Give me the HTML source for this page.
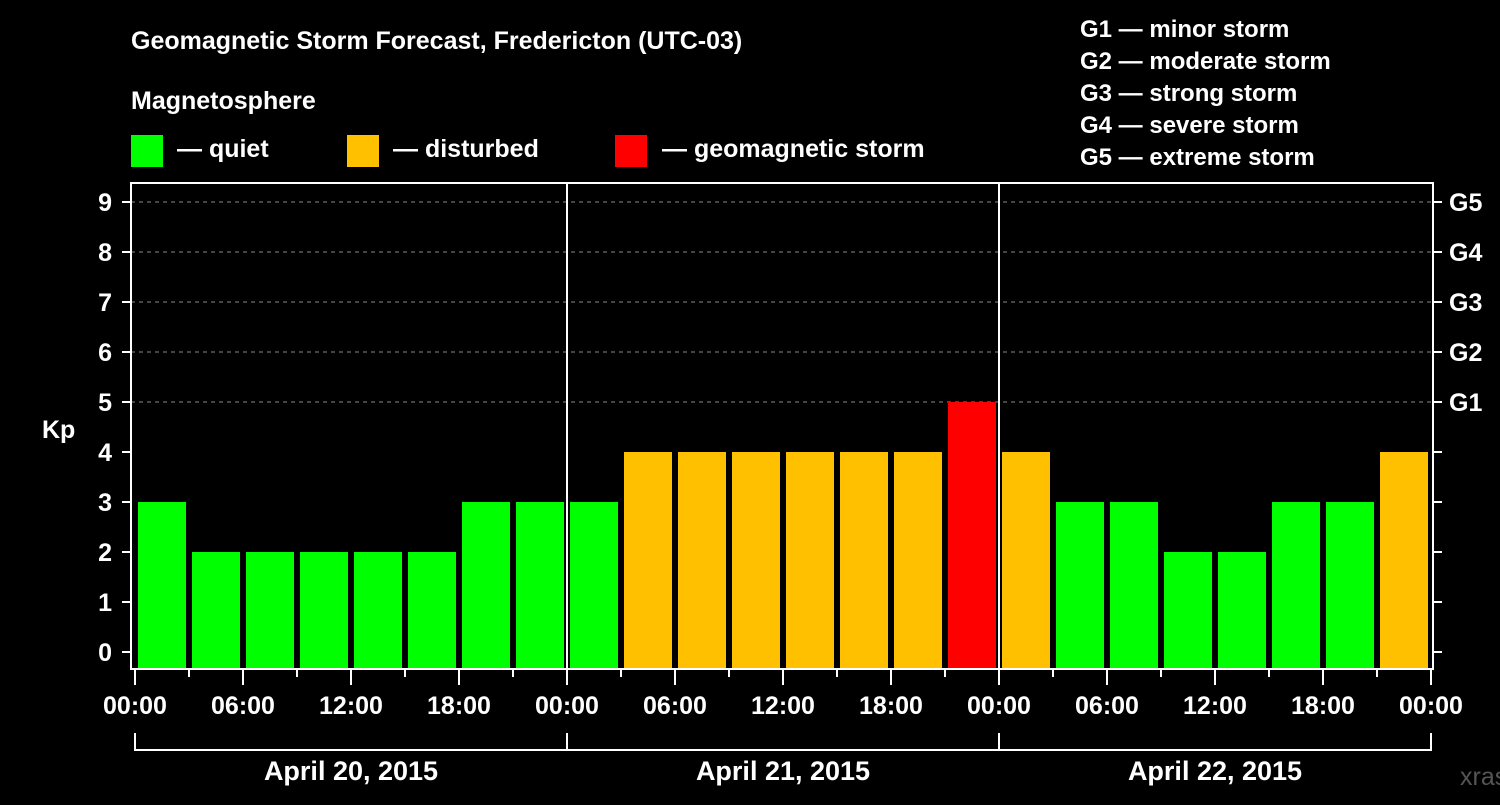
<!DOCTYPE html>
<html><head><meta charset="utf-8"><style>
body{margin:0;background:#000;width:1500px;height:800px;overflow:hidden}
svg text{font-family:"Liberation Sans",Arial,sans-serif;font-weight:bold;fill:#fff}
</style></head><body>
<svg width="1500" height="800">
<text x="131" y="49" font-size="25">Geomagnetic Storm Forecast, Fredericton (UTC-03)</text>
<text x="131" y="109" font-size="25">Magnetosphere</text>
<g><rect x="131" y="135" width="32" height="32" fill="#00ff00"/><text x="177" y="157" font-size="25">— quiet</text></g>
<g><rect x="347" y="135" width="32" height="32" fill="#ffc000"/><text x="393" y="157" font-size="25">— disturbed</text></g>
<g><rect x="615" y="135" width="32" height="32" fill="#ff0000"/><text x="662" y="157" font-size="25">— geomagnetic storm</text></g>
<g font-size="24">
<text x="1080" y="37">G1 — minor storm</text><text x="1080" y="69">G2 — moderate storm</text><text x="1080" y="101">G3 — strong storm</text><text x="1080" y="133">G4 — severe storm</text><text x="1080" y="165">G5 — extreme storm</text></g>
<g id="grid"></g><g id="bars"></g>
<rect x="131" y="183" width="1302" height="486" fill="none" stroke="#fff" stroke-width="2"/>
<g id="axes"></g>
<text x="42" y="438" font-size="25">Kp</text>
<text x="1460" y="785" font-size="25" fill="#555" style="fill:#555;font-weight:normal">xras.ru</text>
</svg>
<script>
const kp=[3,2,2,2,2,2,3,3,3,4,4,4,4,4,4,5,4,3,3,2,2,3,3,4];
const days=["April 20, 2015","April 21, 2015","April 22, 2015"];
const hourLabels=["00:00","06:00","12:00","18:00"];
const yTicks=[0,1,2,3,4,5,6,7,8,9];
const gLabels=["G1","G2","G3","G4","G5"];
const NS="http://www.w3.org/2000/svg";
const X0=135,PXH=18,Y0=652,PXK=50;
const xs=h=>X0+h*PXH, ys=k=>Y0-k*PXK;
function mk(t,a,p){const e=document.createElementNS(NS,t);for(const k in a)e.setAttribute(k,a[k]);p.appendChild(e);return e;}
const grid=document.getElementById('grid'),bars=document.getElementById('bars'),axes=document.getElementById('axes');
yTicks.forEach(k=>{
 if(k>=5){const l=mk('line',{x1:131,x2:1433,y1:ys(k),y2:ys(k),stroke:'#888','stroke-dasharray':'4 4'},grid);
 
 }
 mk('line',{x1:122,x2:131,y1:ys(k),y2:ys(k),stroke:'#fff','stroke-width':2},axes);
 mk('line',{x1:1433,x2:1442,y1:ys(k),y2:ys(k),stroke:'#fff','stroke-width':2},axes);
 const t=mk('text',{x:112,y:ys(k)+9,'font-size':25,'text-anchor':'end'},axes);t.textContent=k;
 
 
});
gLabels.forEach((g,i)=>{const t=mk('text',{x:1449,y:ys(i+5)+9,'font-size':25},axes);t.textContent=g;
 
 });
kp.forEach((v,i)=>{
 const c=v>=5?'#ff0000':v>=4?'#ffc000':'#00ff00';
 const r=mk('rect',{x:xs(i*3)+3,y:ys(v),width:48,height:669-ys(v),fill:c},bars);
 
 
});
for(let d=1;d<3;d++)mk('line',{x1:xs(d*24),x2:xs(d*24),y1:183,y2:669,stroke:'#fff','stroke-width':2},axes);
for(let h=0;h<=72;h+=3){const big=h%6==0;mk('line',{x1:xs(h),x2:xs(h),y1:669,y2:big?685:677,stroke:'#fff','stroke-width':2},axes);
 if(big){const t=mk('text',{x:xs(h),y:714,'font-size':25,'text-anchor':'middle'},axes);t.textContent=hourLabels[(h/6)%4];
 
 }}
days.forEach((d,i)=>{
 mk('path',{d:`M${xs(i*24)} 733V750H${xs(i*24+24)}V733`,fill:'none',stroke:'#fff','stroke-width':2},axes);
 const t=mk('text',{x:xs(i*24+12),y:780,'font-size':27,'text-anchor':'middle'},axes);t.textContent=d;
 
 
});
</script>
</body></html>
